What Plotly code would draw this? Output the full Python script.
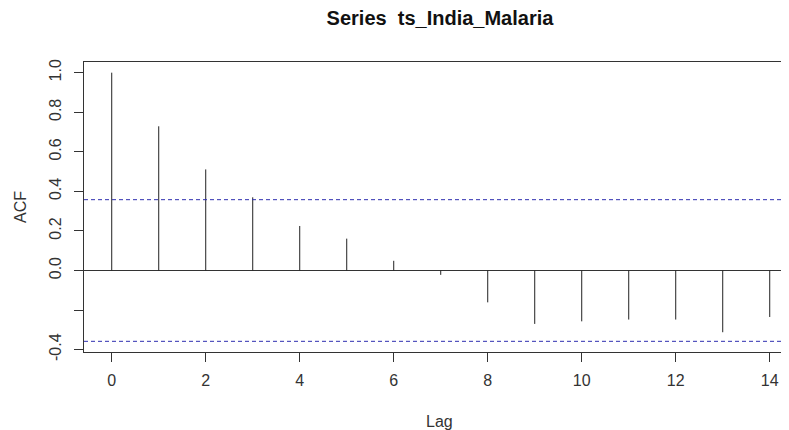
import plotly.graph_objects as go

lags = list(range(0, 15))
acf_values = [1.0, 0.729, 0.511, 0.370, 0.225, 0.161, 0.049, -0.022,
              -0.161, -0.270, -0.257, -0.248, -0.248, -0.312, -0.235]
ci_level = 0.358
y_tick_vals = [-0.4, -0.2, 0.0, 0.2, 0.4, 0.6, 0.8, 1.0]
y_tick_text = ["-0.4", "", "0.0", "0.2", "0.4", "0.6", "0.8", "1.0"]
x_tick_vals = [0, 2, 4, 6, 8, 10, 12, 14]

stem_x, stem_y = [], []
for lg, v in zip(lags, acf_values):
    stem_x += [lg, lg, None]
    stem_y += [0, v, None]

fig = go.Figure()
fig.add_trace(go.Scatter(x=stem_x, y=stem_y, mode="lines",
                         line=dict(color="#222222", width=1),
                         hoverinfo="skip", showlegend=False))

for c in (ci_level, -ci_level):
    fig.add_shape(type="line", xref="paper", yref="y", x0=0, x1=1, y0=c, y1=c,
                  line=dict(color="#2f2fb0", width=1, dash="4px,3px"))

tick_font = dict(family="Liberation Sans Narrow, Liberation Sans, Arial", size=16, color="#333333")

# The page body has an 8px margin, so the figure is sized/offset to compensate.
W, H = 781, 422
L, T, B = 76, 54, 78
plot_w, plot_h = W - L, H - T - B

fig.add_annotation(text="Lag", xref="paper", yref="paper", x=(432 - L) / plot_w, y=0,
                   xanchor="center", yanchor="middle", yshift=-69, showarrow=False,
                   font=tick_font)
fig.add_annotation(text="ACF", xref="paper", yref="paper", x=0, y=0.5,
                   xanchor="center", yanchor="middle", xshift=-(L - 12), textangle=-90,
                   showarrow=False, font=tick_font)

fig.update_layout(
    width=W, height=H,
    margin=dict(l=L, r=0, t=T, b=B),
    paper_bgcolor="white", plot_bgcolor="white",
    title=dict(text="Series  ts_India_Malaria", x=432 / W, xanchor="center",
               y=1 - 10 / H, yanchor="middle",
               font=dict(family="Liberation Sans, Arial", size=20, color="#111111", weight="bold")),
    xaxis=dict(range=[-0.59, 14.41], tickvals=x_tick_vals, ticks="outside", ticklen=9,
               tickcolor="#333333", tickwidth=1, showgrid=False, zeroline=False,
               showline=True, linecolor="#333333", linewidth=1, mirror=True,
               tickfont=tick_font, automargin=False, ticklabelstandoff=5),
    yaxis=dict(range=[-0.412, 1.054], tickvals=y_tick_vals, ticktext=y_tick_text,
               ticks="outside", ticklen=9, tickcolor="#333333", tickwidth=1,
               tickangle=-90, showgrid=False, zeroline=True, zerolinecolor="#333333",
               zerolinewidth=1, showline=True, linecolor="#333333", linewidth=1,
               tickfont=tick_font, automargin=False, ticklabelstandoff=7),
)

fig.write_html("out.html")
